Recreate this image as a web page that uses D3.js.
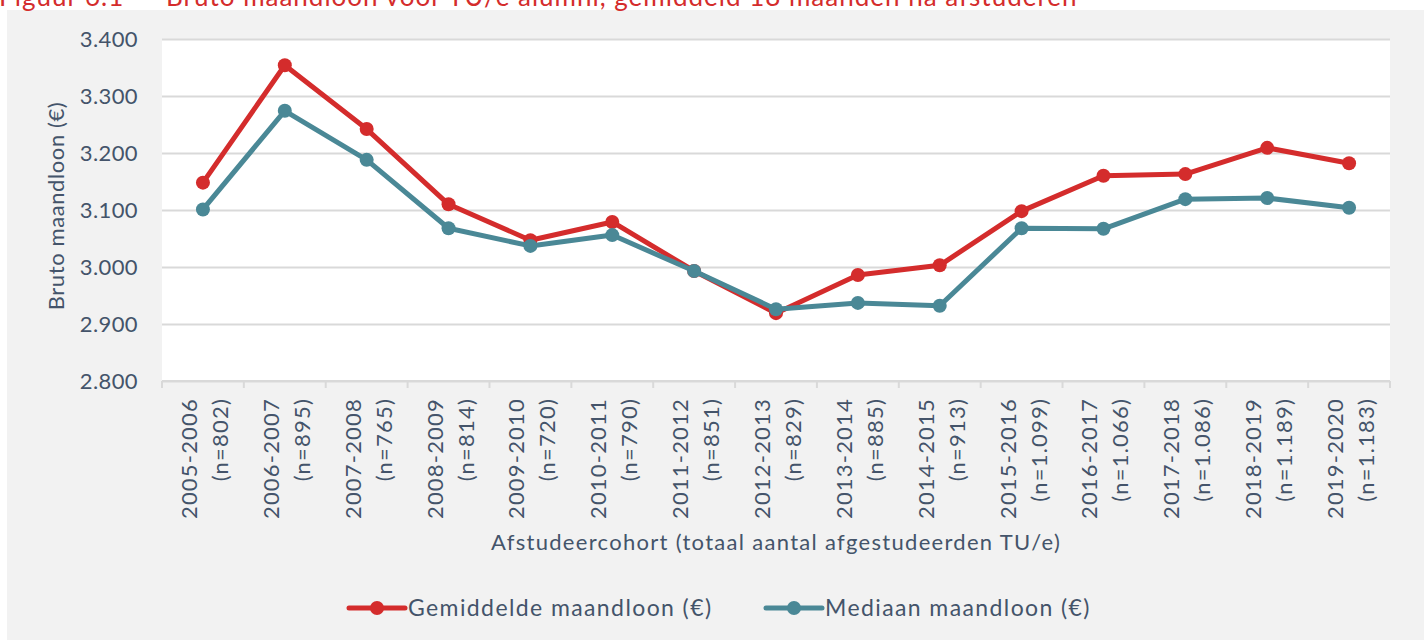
<!DOCTYPE html>
<html>
<head>
<meta charset="utf-8">
<script src="https://cdn.jsdelivr.net/npm/d3@7"></script>
<style>
  body { margin: 0; background: #fff; }
  svg { display: block; font-family: Lato, "Open Sans", sans-serif; }
</style>
</head>
<body>
<div id="chart"></div>
<script>
// cohorts + group sizes
const cohorts = ["2005-2006", "2006-2007", "2007-2008", "2008-2009", "2009-2010", "2010-2011", "2011-2012",
  "2012-2013", "2013-2014", "2014-2015", "2015-2016", "2016-2017", "2017-2018", "2018-2019", "2019-2020"];
const counts = ["802", "895", "765", "814", "720", "790", "851", "829", "885", "913", "1.099", "1.066", "1.086", "1.189", "1.183"];

// monthly wage
const gemiddelde = [3148, 3354, 3242, 3110, 3047, 3079, 2993, 2919, 2986, 3003, 3098, 3160, 3163, 3209, 3182];
const mediaan = [3101, 3274, 3188, 3068, 3037, 3056, 2993, 2926, 2937, 2932, 3068, 3067, 3119, 3121, 3104];

const yTicks = [2800, 2900, 3000, 3100, 3200, 3300, 3400];

const seriesNames = ["Gemiddelde maandloon (€)", "Mediaan maandloon (€)"];
const colors = ["#d42c2c", "#4a8896"];
const textColor = "#44546a";

const W = 1424, H = 640;
const margin = { top: 39, right: 34, bottom: 259, left: 162 };
const iw = W - margin.left - margin.right;
const ih = H - margin.top - margin.bottom;

const svg = d3.select("#chart").append("svg").attr("width", W).attr("height", H);

// panel
svg.append("rect").attr("x", 7).attr("y", 10).attr("width", W - 7).attr("height", H - 10).attr("fill", "#f2f2f2");

// figure caption (cut at top, like the source)
svg.append("text").attr("x", -1).attr("y", 6).attr("fill", "#d42c2c").attr("font-size", 26)
  .attr("letter-spacing", 1).text("Figuur 6.1");
svg.append("text").attr("x", 166).attr("y", 6).attr("fill", "#d42c2c").attr("font-size", 26)
  .attr("letter-spacing", 1).text("Bruto maandloon voor TU/e alumni, gemiddeld 18 maanden na afstuderen");

const g = svg.append("g").attr("transform", `translate(${margin.left},${margin.top})`);
g.append("rect").attr("width", iw).attr("height", ih).attr("fill", "#fff");

const x = d3.scaleBand().domain(cohorts).range([0, iw]);
const y = d3.scaleLinear().domain([2800, 3400]).range([ih, 0]);

// gridlines + y labels
const yAxis = g.append("g").call(d3.axisLeft(y).tickValues(yTicks).tickSize(-iw).tickFormat(d => d3.format(",")(d).replace(",", ".")));
yAxis.select(".domain").remove();
yAxis.selectAll(".tick line").attr("stroke", "#d9d9d9").attr("stroke-width", 2);
yAxis.selectAll(".tick text").attr("x", -24).attr("fill", textColor).attr("font-size", 22)
  .attr("letter-spacing", 0.4).attr("font-family", "Lato, sans-serif");

// x axis with ticks between categories
const xg = g.append("g").attr("transform", `translate(0,${ih})`);
xg.append("line").attr("x1", 0).attr("x2", iw).attr("stroke", "#d9d9d9").attr("stroke-width", 2);
xg.selectAll("line.sep").data(d3.range(cohorts.length + 1)).join("line")
  .attr("class", "sep")
  .attr("x1", i => i * x.bandwidth()).attr("x2", i => i * x.bandwidth())
  .attr("y1", 0).attr("y2", 7).attr("stroke", "#d9d9d9").attr("stroke-width", 2);

const lbl = xg.selectAll("g.lbl").data(cohorts).join("g")
  .attr("class", "lbl")
  .attr("transform", d => `translate(${x(d) + x.bandwidth() / 2},17) rotate(-90)`);
lbl.append("text").attr("y", -6).attr("text-anchor", "end").attr("fill", textColor).attr("font-size", 22)
  .attr("letter-spacing", 1.2).text(d => d);
lbl.append("text").attr("y", 25).attr("text-anchor", "end").attr("fill", textColor).attr("font-size", 22)
  .attr("letter-spacing", 1.2).text((d, i) => `(n=${counts[i]})`);

// axis titles
svg.append("text").attr("x", margin.left + iw / 2).attr("y", 550).attr("text-anchor", "middle")
  .attr("fill", textColor).attr("font-size", 22).attr("letter-spacing", 1.3)
  .text("Afstudeercohort (totaal aantal afgestudeerden TU/e)");
svg.append("text").attr("transform", `translate(64,${margin.top + ih / 2 - 4}) rotate(-90)`).attr("text-anchor", "middle")
  .attr("fill", textColor).attr("font-size", 22).attr("letter-spacing", 0.6).text("Bruto maandloon (€)");

// lines
const line = d3.line().x((d, i) => x(cohorts[i]) + x.bandwidth() / 2).y(d => y(d));
[gemiddelde, mediaan].forEach((vals, s) => {
  g.append("path").datum(vals).attr("d", line).attr("fill", "none")
    .attr("stroke", colors[s]).attr("stroke-width", 5).attr("stroke-linejoin", "round");
  g.selectAll(`circle.s${s}`).data(vals).join("circle").attr("class", `s${s}`)
    .attr("cx", (d, i) => x(cohorts[i]) + x.bandwidth() / 2).attr("cy", d => y(d))
    .attr("r", 7).attr("fill", colors[s]);
});

// legend
const legendX = [349, 766];
seriesNames.forEach((name, s) => {
  const lg = svg.append("g").attr("transform", `translate(${legendX[s]},608)`);
  lg.append("line").attr("x1", 0).attr("x2", 56).attr("stroke", colors[s]).attr("stroke-width", 5).attr("stroke-linecap", "round");
  lg.append("circle").attr("cx", 28).attr("r", 7).attr("fill", colors[s]);
  lg.append("text").attr("x", 59).attr("y", 8).attr("fill", textColor).attr("font-size", 23)
    .attr("letter-spacing", 1.4).text(name);
});
</script>
</body>
</html>
